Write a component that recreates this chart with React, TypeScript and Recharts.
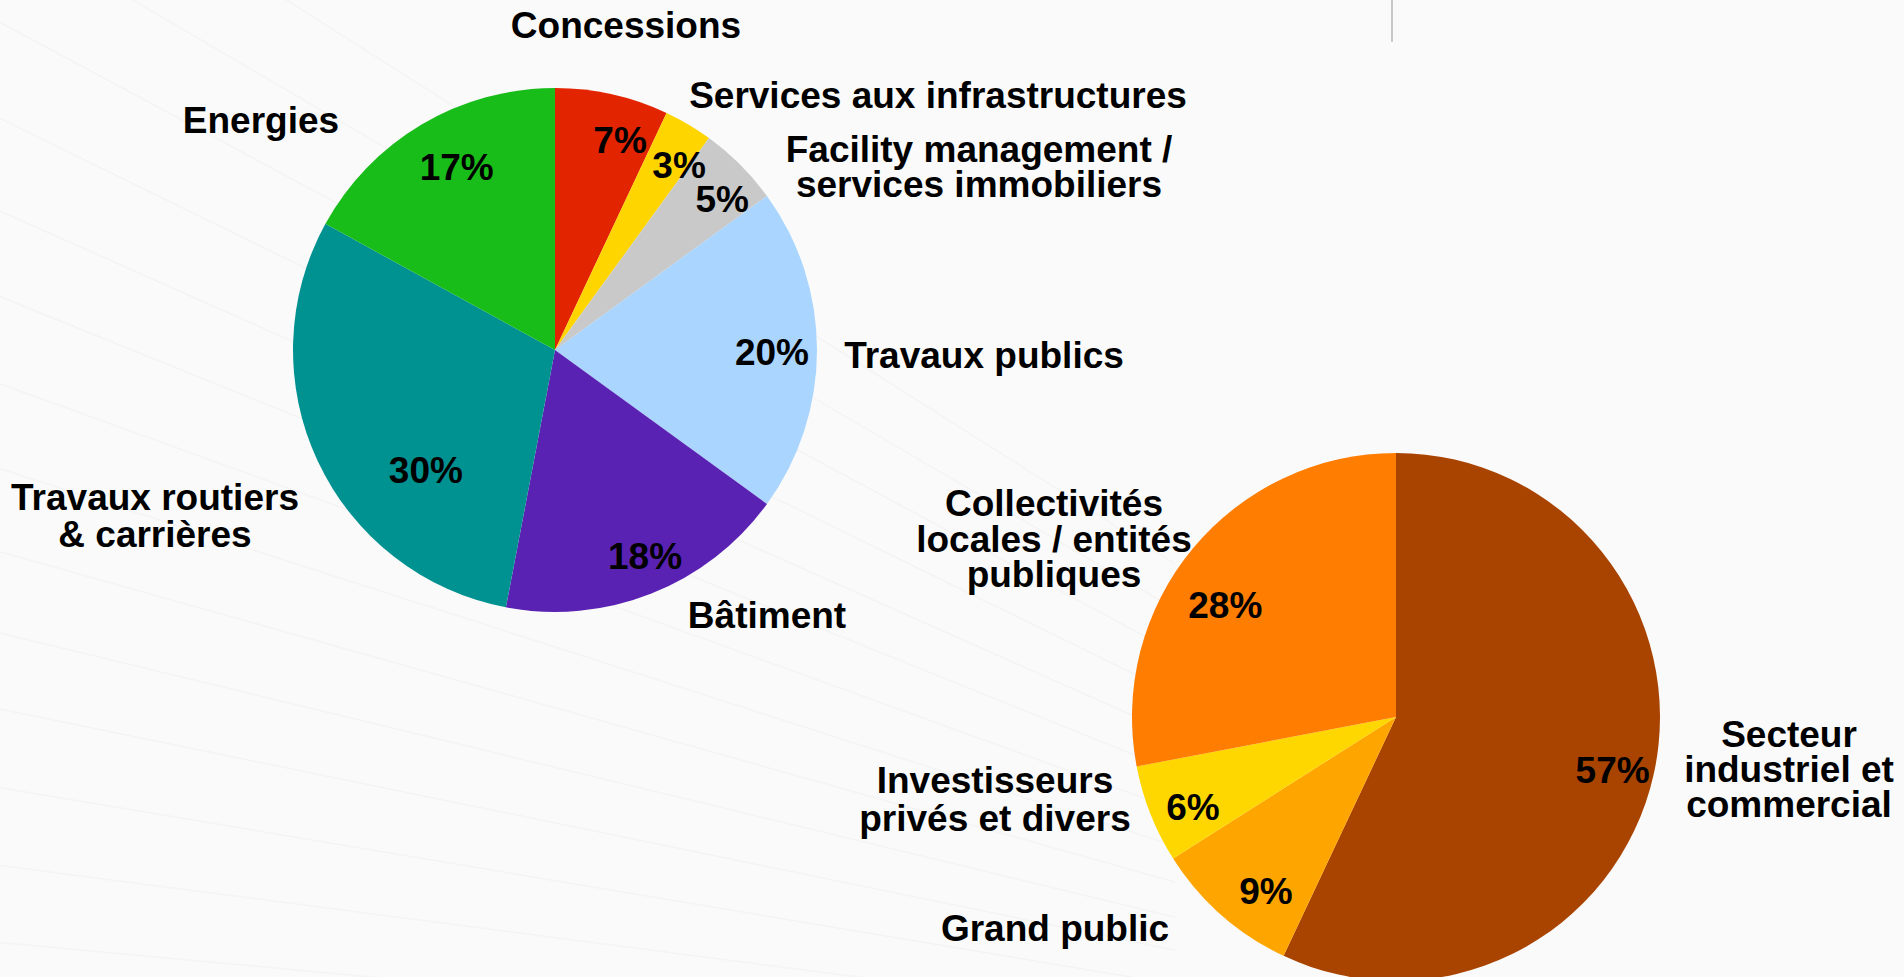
import { Cell, Pie, PieChart } from 'recharts';

// répartition du chiffre d'affaires par métier (camembert de gauche)
const metierNames = [
  'Concessions',
  'Services aux infrastructures',
  'Facility management /\nservices immobiliers',
  'Travaux publics',
  'Bâtiment',
  'Travaux routiers\n& carrières',
  'Energies',
];
const metierShares = [7, 3, 5, 20, 18, 30, 17];
const metierColors = ['#e32400', '#ffd500', '#c9c9c9', '#a9d5ff', '#5a22b2', '#009191', '#19bd19'];

// répartition par client (camembert de droite)
const clientNames = [
  'Secteur\nindustriel et\ncommercial',
  'Grand public',
  'Investisseurs\nprivés et divers',
  'Collectivités\nlocales / entités\npubliques',
];
const clientShares = [57, 9, 6, 28];
const clientColors = ['#a84300', '#ffa500', '#ffd700', '#ff7d00'];

// placement of labels: % = [radius, clockwise nudge deg], name = [dx, dy, line gap] from pie centre
const metierPctPos = [[220, 4.6], [223, 3.2], [225, 3], [217, 0.5], [225, -2], [176, -17.6], [208, 2.4]];
const metierNamePos = [
  [71, -312, 35], [383, -242, 35], [424, -188, 35], [429, 18, 35],
  [212, 278, 35], [-400, 160, 37], [-294, -217, 35],
];
const clientPctPos = [[223, 1.1], [217, -4.6], [222, -2.3], [204, -6.4]];
const clientNamePos = [[393, 30, 35], [-341, 224, 35], [-401, 76, 38], [-342, -201, 35.5]];

// faint background fan (decoration only)
const fanAngles = [5.3, 7.4, 9.5, 11.6, 13.6, 15.7, 17.8, 19.9, 22, 24, 26.1, 28.2, 30.3, 32.4];

const FONT = '"Liberation Sans", Arial, sans-serif';
const RAD = Math.PI / 180;

const metierData = metierNames.map((name, i) => ({ name, value: metierShares[i] }));
const clientData = clientNames.map((name, i) => ({ name, value: clientShares[i] }));

const makeLabel = (pctPos: number[][], namePos: number[][]) => (props: any) => {
  const { cx, cy, midAngle, index, value, name } = props;
  const [r, nudge] = pctPos[index];
  const a = (midAngle - nudge) * RAD;
  const px = cx + r * Math.cos(a);
  const py = cy - r * Math.sin(a);
  const [dx, dy, gap] = namePos[index];
  const lines = String(name).split('\n');
  const textStyle = { fontFamily: FONT, fontWeight: 700, fontSize: 37, fill: '#000' };
  return (
    <g key={`lbl-${index}`}>
      <text x={px} y={py + 13} textAnchor="middle" style={textStyle}>
        {value}%
      </text>
      <text x={cx + dx} y={cy + dy} textAnchor="middle" style={textStyle}>
        {lines.map((line, i) => (
          <tspan key={i} x={cx + dx} dy={i === 0 ? 0 : gap}>
            {line}
          </tspan>
        ))}
      </text>
    </g>
  );
};

export default function App() {
  const fx = 2075;
  const fy = 1135;
  return (
    <div
      style={{
        position: 'absolute',
        left: 0,
        top: 0,
        width: 1904,
        height: 977,
        overflow: 'hidden',
        background: '#fafafa',
      }}
    >
      <svg width={1904} height={977} style={{ position: 'absolute', left: 0, top: 0 }}>
        {fanAngles.map((deg) => (
          <line
            key={deg}
            x1={fx - 2100}
            y1={fy - 2100 * Math.tan(deg * RAD)}
            x2={fx - 900}
            y2={fy - 900 * Math.tan(deg * RAD)}
            stroke="#f4f4f4"
            strokeWidth={1.5}
          />
        ))}
        <line x1={1392} y1={0} x2={1392} y2={42} stroke="#c8c8c8" strokeWidth={2} />
      </svg>
      <div style={{ position: 'absolute', left: 0, top: 0 }}>
        <PieChart width={1904} height={977} margin={{ top: 0, right: 0, bottom: 0, left: 0 }}>
          <Pie
            data={metierData}
            dataKey="value"
            nameKey="name"
            cx={555}
            cy={350}
            outerRadius={262}
            startAngle={90}
            endAngle={-270}
            stroke="none"
            labelLine={false}
            label={makeLabel(metierPctPos, metierNamePos)}
            isAnimationActive={false}
          >
            {metierData.map((d, i) => (
              <Cell key={d.name} fill={metierColors[i]} />
            ))}
          </Pie>
          <Pie
            data={clientData}
            dataKey="value"
            nameKey="name"
            cx={1396}
            cy={717}
            outerRadius={264}
            startAngle={90}
            endAngle={-270}
            stroke="none"
            labelLine={false}
            label={makeLabel(clientPctPos, clientNamePos)}
            isAnimationActive={false}
          >
            {clientData.map((d, i) => (
              <Cell key={d.name} fill={clientColors[i]} />
            ))}
          </Pie>
        </PieChart>
      </div>
    </div>
  );
}
